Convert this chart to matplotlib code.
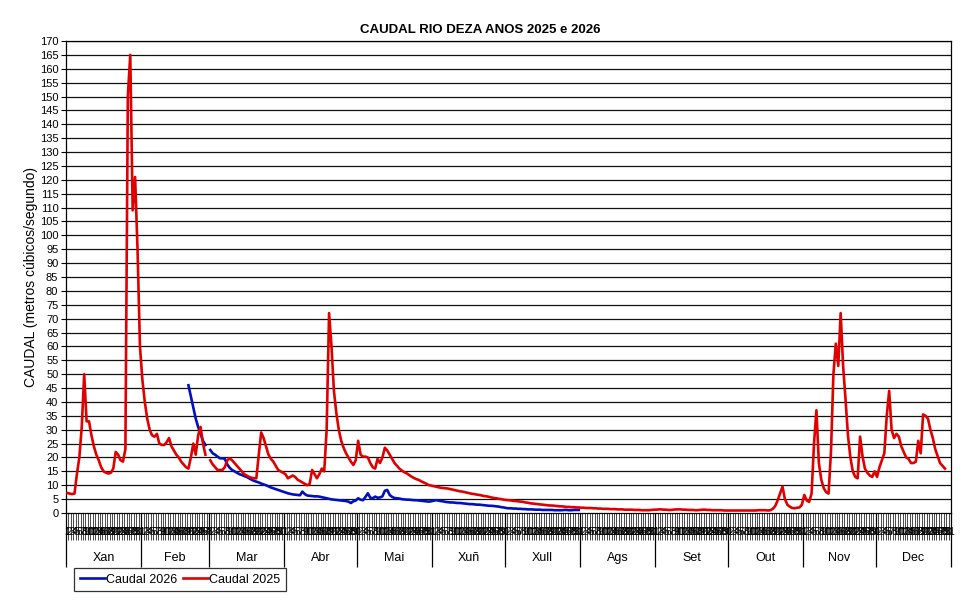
import numpy as np
import matplotlib
matplotlib.use("Agg")
import matplotlib.pyplot as plt

plt.rcParams['font.family'] = ['Liberation Sans', 'DejaVu Sans']

nan = np.nan

meses = ['Xan', 'Feb', 'Mar', 'Abr', 'Mai', 'Xuñ', 'Xull', 'Ags', 'Set', 'Out', 'Nov', 'Dec']
dias_mes = [31, 28, 31, 30, 31, 30, 31, 31, 30, 31, 30, 31]

# Caudal 2025 (m3/s), un valor por día
c2025_xan = [7.2, 7.0, 6.8, 7.0, 14, 20, 31, 50, 33, 33, 28, 24, 21, 19, 16.5, 15, 14.5, 14.2, 14.5, 16,
             22, 21, 19, 18.5, 23, 150, 165, 109, 121, 95, 60]
c2025_feb = [48, 40, 34, 30, 28, 27.5, 28.5, 25, 24.5, 24.5, 25.5, 27, 24, 22.5, 21, 20, 18.5, 17.5, 16.5, 16,
             20, 25, 21, 28, 31, 25, 21, nan]
c2025_mar = [19, 17.5, 16.5, 15.5, 15.5, 15.5, 16.5, 19, 19.7, 19, 18, 17, 16, 15, 14, 13.5, 13, 12.7, 12.5, 12.5,
             21, 29, 27, 24, 21, 19.5, 18.5, 17, 15.5, 15, 14.5]
c2025_abr = [14, 12.5, 13, 13.5, 13, 12, 11.5, 11, 10.5, 10, 10.5, 15.5, 14, 12.5, 14, 16, 15, 30, 72, 60,
             44, 36, 30, 26, 23.5, 21.5, 20, 18.5, 17.3, 19]
c2025_mai = [26, 21, 20.3, 20.3, 20, 18, 16.5, 16, 19.5, 18, 20, 23.5, 22.5, 21, 19.5, 18, 17, 16, 15.3, 14.7,
             14.3, 13.7, 13.1, 12.6, 12.2, 11.9, 11.4, 11, 10.6, 10.1, 9.9]
c2025_xun = [9.7, 9.5, 9.3, 9.1, 9.0, 8.9, 8.8, 8.6, 8.4, 8.2, 8.0, 7.8, 7.7, 7.5, 7.3, 7.1, 6.9, 6.8, 6.6, 6.5,
             6.3, 6.1, 6.0, 5.8, 5.6, 5.4, 5.3, 5.1, 5.0, 4.8]
c2025_xull = [4.7, 4.6, 4.5, 4.4, 4.3, 4.2, 4.1, 4.0, 3.8, 3.7, 3.5, 3.4, 3.3, 3.2, 3.1, 3.0, 2.9, 2.8, 2.7, 2.7,
              2.6, 2.5, 2.4, 2.4, 2.3, 2.2, 2.2, 2.1, 2.1, 2.0, 2.0]
c2025_ags = [1.9, 1.9, 1.8, 1.8, 1.8, 1.7, 1.7, 1.6, 1.6, 1.5, 1.5, 1.5, 1.4, 1.4, 1.4, 1.3, 1.3, 1.3, 1.2, 1.2,
             1.2, 1.2, 1.1, 1.1, 1.1, 1.0, 1.0, 1.0, 1.0, 1.1, 1.2]
c2025_set = [1.2, 1.3, 1.3, 1.2, 1.2, 1.1, 1.1, 1.2, 1.3, 1.3, 1.3, 1.2, 1.2, 1.1, 1.1, 1.1, 1.0, 1.0, 1.1, 1.2,
             1.2, 1.1, 1.1, 1.0, 1.0, 1.0, 1.0, 1.0, 0.9, 0.9]
c2025_out = [0.9, 0.9, 0.9, 0.9, 0.9, 0.9, 0.9, 0.9, 0.9, 0.9, 0.9, 0.9, 1.0, 1.0, 1.0, 1.0, 0.9, 1.0, 1.5, 2.5,
             4.5, 7, 9.5, 5, 3, 2.3, 1.8, 1.7, 1.9, 2.0, 3.0]
c2025_nov = [6.5, 4.5, 4.0, 7, 25, 37, 18, 12, 9, 7.5, 7, 22, 50, 61, 53, 72, 53, 41, 28, 20,
             15, 13, 12.5, 27.5, 20.5, 16, 14.5, 13.5, 13, 15]
c2025_dec = [13, 16.5, 19, 21.5, 35, 44, 30, 27, 28.5, 27.5, 24, 22, 20, 19.5, 18, 18, 18.5, 26, 21.5, 35.5,
             35, 34, 30, 27, 23, 20.5, 18, 17, 16, nan, nan]

# Caudal 2026 (m3/s)
c2026_xan = [nan] * 31
c2026_feb = [nan, nan, nan, nan, nan, nan, nan, nan, nan, nan, nan, nan, nan, nan, nan, nan, nan, nan, nan,
             46, 42, 38, 34, 31, 28.5, 26, 24.5, nan]
c2026_mar = [22.7, 21.5, 21, 20.3, 19.7, 19.7, 19.5, 17.5, 16.3, 15.5, 15, 14.5, 14, 13.7, 13.3, 13, 12.5, 12, 11.6, 11.3,
             11, 10.6, 10.3, 10, 9.6, 9.2, 8.9, 8.6, 8.3, 8.0, 7.7]
c2026_abr = [7.4, 7.1, 6.9, 6.7, 6.6, 6.5, 6.4, 7.7, 6.8, 6.3, 6.2, 6.1, 6.0, 6.0, 5.9, 5.7, 5.5, 5.3, 5.1, 4.9,
             4.8, 4.7, 4.6, 4.5, 4.4, 4.3, 4.1, 3.6, 4.2, 4.5]
c2026_mai = [5.3, 4.8, 4.6, 5.8, 7.1, 5.5, 5.3, 5.9, 5.5, 5.6, 6.0, 8.0, 8.3, 6.5, 5.8, 5.4, 5.3, 5.2, 5.0, 4.9,
             4.8, 4.8, 4.7, 4.6, 4.6, 4.5, 4.4, 4.3, 4.2, 4.1, 4.2]
c2026_xun = [4.4, 4.6, 4.5, 4.3, 4.2, 4.0, 3.9, 3.8, 3.8, 3.7, 3.6, 3.6, 3.5, 3.4, 3.3, 3.2, 3.2, 3.1, 3.0, 3.0,
             2.9, 2.8, 2.7, 2.6, 2.6, 2.5, 2.4, 2.3, 2.1, 2.0]
c2026_xull = [1.8, 1.7, 1.7, 1.6, 1.6, 1.5, 1.5, 1.4, 1.4, 1.3, 1.3, 1.3, 1.2, 1.2, 1.2, 1.1, 1.1, 1.1, 1.1, 1.1,
              1.0, 1.0, 1.0, 1.0, 1.1, 1.1, 1.0, 1.0, 1.1, 1.1, 1.1]
c2026_resto = [nan] * (31 + 30 + 31 + 30 + 31)

caudal_2025 = np.array(c2025_xan + c2025_feb + c2025_mar + c2025_abr + c2025_mai + c2025_xun +
                       c2025_xull + c2025_ags + c2025_set + c2025_out + c2025_nov + c2025_dec, dtype=float)
caudal_2026 = np.array(c2026_xan + c2026_feb + c2026_mar + c2026_abr + c2026_mai + c2026_xun +
                       c2026_xull + c2026_resto, dtype=float)

n_dias = len(caudal_2025)
x = np.arange(n_dias) + 0.5
dia_num = [d + 1 for n in dias_mes for d in range(n)]
inicio_mes = np.concatenate([[0], np.cumsum(dias_mes)])

fig = plt.figure(figsize=(9.8, 6.06), dpi=100)
ax = fig.add_axes([66 / 980, 1 - 513 / 606, (951 - 66) / 980, (513 - 41) / 606])

l26, = ax.plot(x, caudal_2026, color='#0010c0', lw=1.9, label='Caudal 2026', zorder=3)
l25, = ax.plot(x, caudal_2025, color='#e00000', lw=1.9, label='Caudal 2025', zorder=4)

ax.set_xlim(0, n_dias)
ax.set_ylim(0, 170)
ax.set_yticks(np.arange(0, 171, 5))
ax.tick_params(axis='y', labelsize=8, length=3.5, width=0.8, pad=2)
for yv in np.arange(5, 171, 5):
    ax.axhline(yv, color='#111111', lw=0.9, zorder=1)

# eixo de categorías: un tick por día e o número do día
ax.set_xticks(range(0, n_dias + 1))
ax.set_xticklabels([])
ax.tick_params(axis='x', which='major', length=19.5, width=0.55, color='#1a1a1a', direction='out')
ax.set_xticks(x, minor=True)
ax.set_xticklabels([str(d) for d in dia_num], minor=True, fontsize=7)
ax.tick_params(axis='x', which='minor', length=0, pad=10)

# separadores e nomes dos meses
trans = ax.get_xaxis_transform()
ax.vlines(inicio_mes, -54 / 472, 0, transform=trans, clip_on=False, color='black', lw=0.9)
for i, m in enumerate(meses):
    ax.text((inicio_mes[i] + inicio_mes[i + 1]) / 2, -45 / 472, m, transform=trans,
            ha='center', va='center', fontsize=9)

for s in ax.spines.values():
    s.set_color('black')
    s.set_linewidth(0.9)

ax.set_ylabel('CAUDAL (metros cúbicos/segundo)', fontsize=10, labelpad=1)
fig.text(480 / 980, 1 - 30 / 606, 'CAUDAL RIO DEZA ANOS 2025 e 2026', ha='center', va='center',
         fontsize=9.5, fontweight='bold')

leg = fig.legend(handles=[l26, l25], loc='upper left', bbox_to_anchor=(74 / 980, 1 - 568 / 606),
                 ncol=2, frameon=True, fancybox=False, edgecolor='black', fontsize=9,
                 handlelength=2.0, handletextpad=0.1, columnspacing=0.45, borderpad=0.45,
                 borderaxespad=0)
leg.get_frame().set_linewidth(0.9)

fig.savefig('out.png', dpi=100)
